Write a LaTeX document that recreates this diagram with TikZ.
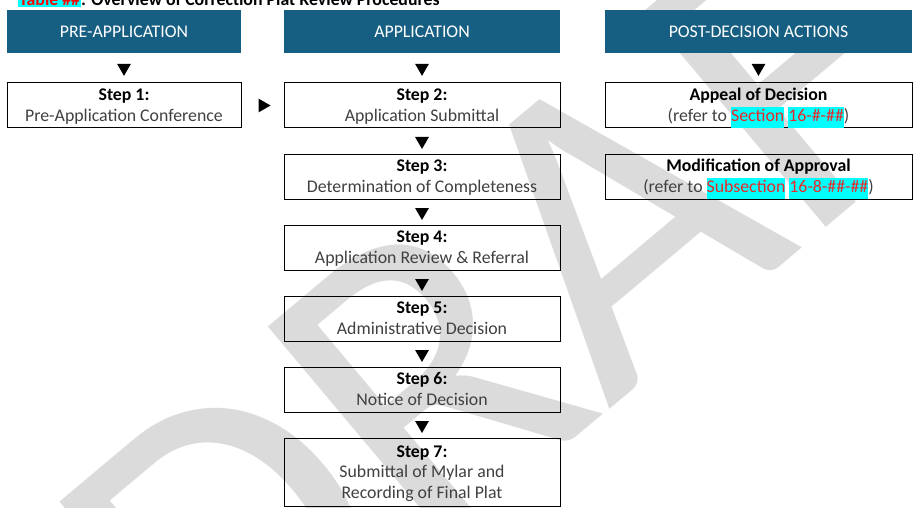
\documentclass[tikz,border=0pt]{standalone}
\usepackage{fontspec}
\setmainfont{Carlito}
\usetikzlibrary{positioning,shapes.geometric,calc}
\definecolor{hdrblue}{RGB}{23,95,130}
\definecolor{bodygray}{RGB}{64,64,64}
\definecolor{refred}{RGB}{235,40,40}
\definecolor{hlcyan}{RGB}{0,255,255}
\definecolor{wmgray}{RGB}{219,219,219}
\newcommand{\hlref}[1]{{\setlength{\fboxsep}{0pt}\colorbox{hlcyan}{\strut\textcolor{refred}{#1}}}}
\newcommand{\stephead}[1]{\rule{0pt}{17.6pt}{\color{black}\bfseries #1}}
\tikzset{
  every node/.style={font=\fontsize{17.8}{20.5}\selectfont},
  hdr/.style ={fill=hdrblue, text=white, minimum height=43pt, inner sep=0pt},
  box/.style ={draw, line width=1pt, align=center, minimum height=45pt, inner xsep=3pt, inner ysep=0pt,
               text=bodygray, execute at end node=\strut},
  dtri/.style={regular polygon, regular polygon sides=3, shape border rotate=180, fill=black, inner sep=0pt, minimum size=16pt},
  rtri/.style={dtri, shape border rotate=-90}
}
\begin{document}
\begin{tikzpicture}[x=1pt,y=-1pt]
\useasboundingbox (0,0) rectangle (915,508);
\clip (0,0) rectangle (915,508);
% watermark
\node[text=wmgray, rotate=40, inner sep=0pt,
      font=\fontsize{440}{440}\selectfont] (wm) at (580,250) {DRAFT};
% table title, cut off at the top
\node[anchor=base west, inner sep=0pt, font=\fontsize{17.8}{20.5}\selectfont\bfseries] (title) at (18,5.5)
  {{\setlength{\fboxsep}{1pt}\colorbox{hlcyan}{\textcolor{red}{Table \#\#}}}: Overview of Correction Plat Review Procedures};
% column heads
\node[hdr, minimum width=234pt] (pre)  at (124,31.5)   {PRE-APPLICATION};
\node[hdr, minimum width=276pt] (app)  at (422,31.5)   {APPLICATION};
\node[hdr, minimum width=307pt] (post) at (758.5,31.5) {POST-DECISION ACTIONS};
% steps
\node[box, minimum width=234pt] (s1) at (124,105.5) {\stephead{Step 1:}\\ Pre-Application Conference};
\node[box, minimum width=276pt] (s2) at (422,105.5) {\stephead{Step 2:}\\ Application Submittal};
\node[box, minimum width=276pt, below=25pt of s2] (s3) {\stephead{Step 3:}\\ Determination of Completeness};
\node[box, minimum width=276pt, below=25pt of s3] (s4) {\stephead{Step 4:}\\ Application Review \& Referral};
\node[box, minimum width=276pt, below=25pt of s4] (s5) {\stephead{Step 5:}\\ Administrative Decision};
\node[box, minimum width=276pt, below=25pt of s5] (s6) {\stephead{Step 6:}\\ Notice of Decision};
\node[box, minimum width=276pt, minimum height=68pt, below=25pt of s6] (s7)
  {\stephead{Step 7:}\\ Submittal of Mylar and\\ Recording of Final Plat};
% post-decision actions
\node[box, minimum width=307pt] (appeal) at (758.5,105.5)
  {\stephead{Appeal of Decision}\\ (refer to \hlref{Section} \hlref{16-\#-\#\#})};
\node[box, minimum width=307pt, below=25pt of appeal] (modif)
  {\stephead{Modification of Approval}\\ (refer to \hlref{Subsection} \hlref{16-8-\#\#-\#\#})};
% flow markers
\node[dtri] (t0) at ($(pre.south)!.5!(s1.north)$) {};
\node[dtri] (t1) at ($(app.south)!.5!(s2.north)$) {};
\node[dtri] (t2) at ($(post.south)!.5!(appeal.north)$) {};
\foreach \a/\b in {s2/s3,s3/s4,s4/s5,s5/s6,s6/s7}
  \node[dtri] (t-\b) at ($(\a.south)!.5!(\b.north)$) {};
\node[rtri] (tr) at ($(s1.east)!.5!(s2.west)$) {};
\end{tikzpicture}
\end{document}
